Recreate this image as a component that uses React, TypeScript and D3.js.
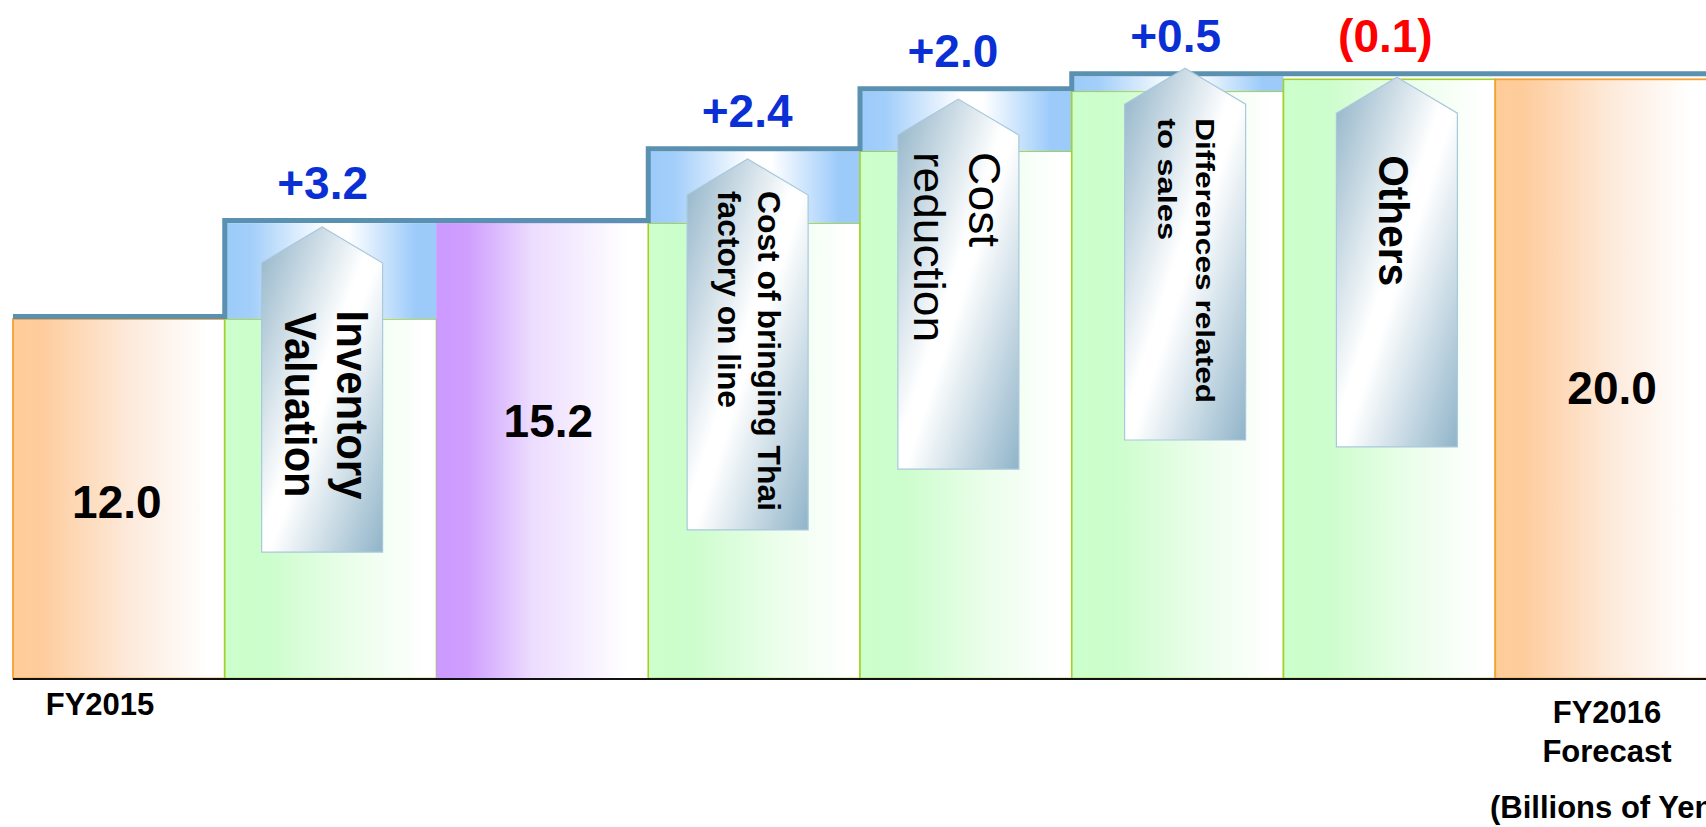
import React from "react";
import * as d3 from "d3";

// ---------- data ----------
const categories = [
  "FY2015",
  "Inventory Valuation",
  "Subtotal",
  "Cost of bringing Thai factory on line",
  "Cost reduction",
  "Differences related to sales",
  "Others",
  "FY2016 Forecast",
];
const kinds = ["total", "delta", "total", "delta", "delta", "delta", "delta", "total"];
const values = [12.0, 3.2, 15.2, 2.4, 2.0, 0.5, -0.1, 20.0];
const barColors = ["orange", "green", "purple", "green", "green", "green", "green", "orange"];

// arrow annotations (one per delta bar)
const arrowLines = [
  ["Inventory", "Valuation"],
  ["Cost of bringing Thai", "factory on line"],
  ["Cost", "reduction"],
  ["Differences related", "to sales"],
  ["Others"],
];
const arrowTipValues = [15.07, 17.34, 19.34, 20.37, 20.07];
const arrowBottomValues = [4.22, 4.96, 6.99, 7.96, 7.73];

// value label positions (baseline, in data units) for total bars
const totalLabelValues = [5.36, 8.06, 9.16];

// category labels under the axis
const axisLabels = [
  { index: 0, lines: ["FY2015"] },
  { index: 7, lines: ["FY2016", "Forecast"] },
];
const unitLabel = "(Billions of Yen)";

// ---------- styling (not data) ----------
const W = 1706;
const H = 827;
const FONT = "'Liberation Sans', Arial, Helvetica, sans-serif";
const arrowStyles = [
  { dx: -8.5, size: 44, weight: 700, anchor: "middle", textDy: 178, offs: [75, 23], lens: [189, 185] },
  { dx: -6.5, size: 32, weight: 700, anchor: "start", textDy: 32, offs: [71, 31], lens: [320, 217] },
  { dx: -7.5, size: 44, weight: 400, anchor: "start", textDy: 53, offs: [71, 16], lens: [95, 190] },
  { dx: 7.5, size: 26, weight: 700, anchor: "start", textDy: 50, offs: [71, 33], lens: [285, 122] },
  { dx: 7.5, size: 42, weight: 700, anchor: "start", textDy: 78, offs: [43], lens: [131] },
];
const deltaLabelDx = [-8, -7, -13, -2, -4];
const totalLabelDx = [-2, 6, 11];

export default function App() {
  const x = d3
    .scaleBand<string>()
    .domain(categories)
    .range([13, 1707])
    .paddingInner(0)
    .paddingOuter(0);
  const y = d3.scaleLinear().domain([0, 20]).range([678.5, 79.3]);
  const bw = x.bandwidth();

  // waterfall computation
  let cum = 0;
  const bars = categories.map((c, i) => {
    let start: number, end: number;
    if (kinds[i] === "total") {
      start = 0;
      end = values[i];
    } else {
      start = cum;
      end = cum + values[i];
    }
    cum = end;
    return { c, i, start, end, kind: kinds[i], v: values[i] };
  });

  // step line levels (running max of bar tops)
  let runMax = -Infinity;
  const levels = bars.map((b) => {
    runMax = Math.max(runMax, Math.max(b.start, b.end));
    return runMax;
  });
  const LW = 5;
  let linePath = "";
  bars.forEach((b, i) => {
    const x0 = x(b.c)!;
    const ly = y(levels[i]) - LW / 2;
    if (i === 0) linePath += `M${x0},${ly}`;
    else linePath += `V${ly}`;
    linePath += `H${x0 + bw}`;
  });

  const fillFor: Record<string, string> = {
    orange: "url(#gOrange)",
    green: "url(#gGreen)",
    purple: "url(#gPurple)",
  };
  const strokeFor: Record<string, string> = {
    orange: "#f7a035",
    green: "#a3d12a",
    purple: "#c99af7",
  };

  const deltaBars = bars.filter((b) => b.kind === "delta");
  const totalBars = bars.filter((b) => b.kind === "total");
  const fmtDelta = (v: number) =>
    v >= 0 ? "+" + d3.format(".1f")(v) : "(" + d3.format(".1f")(Math.abs(v)) + ")";

  return (
    <svg
      width={W}
      height={H}
      style={{ position: "absolute", left: 0, top: 0, display: "block", background: "#fff" }}
      fontFamily={FONT}
    >
      <defs>
        <linearGradient id="gOrange" x1="0" y1="0" x2="1" y2="0">
          <stop offset="0" stopColor="#ffcc99" />
          <stop offset="0.12" stopColor="#fecb9b" />
          <stop offset="0.55" stopColor="#fdeadb" />
          <stop offset="0.92" stopColor="#ffffff" />
          <stop offset="1" stopColor="#ffffff" />
        </linearGradient>
        <linearGradient id="gGreen" x1="0" y1="0" x2="1" y2="0">
          <stop offset="0" stopColor="#ccffcc" />
          <stop offset="0.2" stopColor="#ccfdcc" />
          <stop offset="0.6" stopColor="#ebfeeb" />
          <stop offset="0.95" stopColor="#ffffff" />
          <stop offset="1" stopColor="#ffffff" />
        </linearGradient>
        <linearGradient id="gPurple" x1="0" y1="0" x2="1" y2="0">
          <stop offset="0" stopColor="#cc99ff" />
          <stop offset="0.15" stopColor="#cf9ffe" />
          <stop offset="0.45" stopColor="#ecdcfe" />
          <stop offset="0.9" stopColor="#ffffff" />
          <stop offset="1" stopColor="#ffffff" />
        </linearGradient>
        <linearGradient id="gBlue" x1="0" y1="0" x2="1" y2="0">
          <stop offset="0" stopColor="#9ccbfa" />
          <stop offset="0.12" stopColor="#a2cefa" />
          <stop offset="0.48" stopColor="#ffffff" />
          <stop offset="0.58" stopColor="#ffffff" />
          <stop offset="0.9" stopColor="#9ccbfa" />
          <stop offset="1" stopColor="#9ccbfa" />
        </linearGradient>
        <linearGradient id="gArrow" x1="0" y1="0" x2="1" y2="1">
          <stop offset="0" stopColor="#8fb2c7" />
          <stop offset="0.47" stopColor="#ffffff" />
          <stop offset="0.53" stopColor="#ffffff" />
          <stop offset="1" stopColor="#90b4c9" />
        </linearGradient>
      </defs>

      {/* bars */}
      {bars.map((b) => {
        const x0 = x(b.c)!;
        const lo = Math.min(b.start, b.end);
        if (b.kind === "total") {
          return (
            <rect
              key={b.c}
              x={x0}
              y={y(b.end)}
              width={bw}
              height={y(0) - y(b.end)}
              fill={fillFor[barColors[b.i]]}
              stroke={strokeFor[barColors[b.i]]}
              strokeWidth={barColors[b.i] === "purple" ? 0.5 : 1.8}
            />
          );
        }
        return (
          <g key={b.c}>
            <rect
              x={x0}
              y={y(lo)}
              width={bw}
              height={y(0) - y(lo)}
              fill="url(#gGreen)"
              stroke={strokeFor.green}
              strokeWidth={1.6}
            />
            {b.v > 0 && (
              <rect
                x={x0}
                y={y(b.end)}
                width={bw}
                height={y(b.start) - y(b.end)}
                fill="url(#gBlue)"
              />
            )}
          </g>
        );
      })}

      {/* baseline */}
      <line x1={13} x2={W} y1={y(0) + 0.5} y2={y(0) + 0.5} stroke="#111" strokeWidth={2} />

      {/* step line */}
      <path d={linePath} fill="none" stroke="#5b91b0" strokeWidth={LW} strokeLinejoin="miter" />

      {/* arrows */}
      {deltaBars.map((b, k) => {
        const st = arrowStyles[k];
        const cx = x(b.c)! + bw / 2 + st.dx;
        const aw = 121;
        const left = cx - aw / 2;
        const right = cx + aw / 2;
        const tip = y(arrowTipValues[k]);
        const shoulder = tip + 36;
        const bottom = y(arrowBottomValues[k]);
        const pts = [
          [left, shoulder],
          [cx, tip],
          [right, shoulder],
          [right, bottom],
          [left, bottom],
        ];
        return (
          <g key={"arrow" + k}>
            <path
              d={d3.line()(pts as [number, number][])! + "Z"}
              fill="url(#gArrow)"
              stroke="#a9c8dc"
              strokeWidth={1.2}
            />
            {arrowLines[k].map((ln, j) => (
              <text
                key={j}
                transform={`translate(${left + st.offs[j]},${tip + st.textDy}) rotate(90)`}
                fontSize={st.size}
                fontWeight={st.weight}
                textAnchor={st.anchor}
                textLength={st.lens[j]}
                lengthAdjust="spacingAndGlyphs"
                fill="#000"
              >
                {ln}
              </text>
            ))}
          </g>
        );
      })}

      {/* delta labels */}
      {deltaBars.map((b, k) => (
        <text
          key={"dl" + k}
          x={x(b.c)! + bw / 2 + deltaLabelDx[k]}
          y={y(levels[b.i]) - 24}
          textAnchor="middle"
          fontSize={46}
          fontWeight={700}
          fill={b.v >= 0 ? "#0a2fd4" : "#ff0000"}
        >
          {fmtDelta(b.v)}
        </text>
      ))}

      {/* total labels */}
      {totalBars.map((b, k) => (
        <text
          key={"tl" + k}
          x={x(b.c)! + bw / 2 + totalLabelDx[k]}
          y={y(totalLabelValues[k])}
          textAnchor="middle"
          fontSize={46}
          fontWeight={700}
          fill="#000"
        >
          {d3.format(".1f")(b.v)}
        </text>
      ))}

      {/* axis category labels */}
      <text x={100} y={715} textAnchor="middle" fontSize={31} fontWeight={700}>
        {axisLabels[0].lines[0]}
      </text>
      <text x={1607} y={723} textAnchor="middle" fontSize={31} fontWeight={700}>
        {axisLabels[1].lines[0]}
      </text>
      <text x={1607} y={762} textAnchor="middle" fontSize={31} fontWeight={700}>
        {axisLabels[1].lines[1]}
      </text>
      <text x={1490} y={818} textAnchor="start" fontSize={31} fontWeight={700}>
        {unitLabel}
      </text>
    </svg>
  );
}
